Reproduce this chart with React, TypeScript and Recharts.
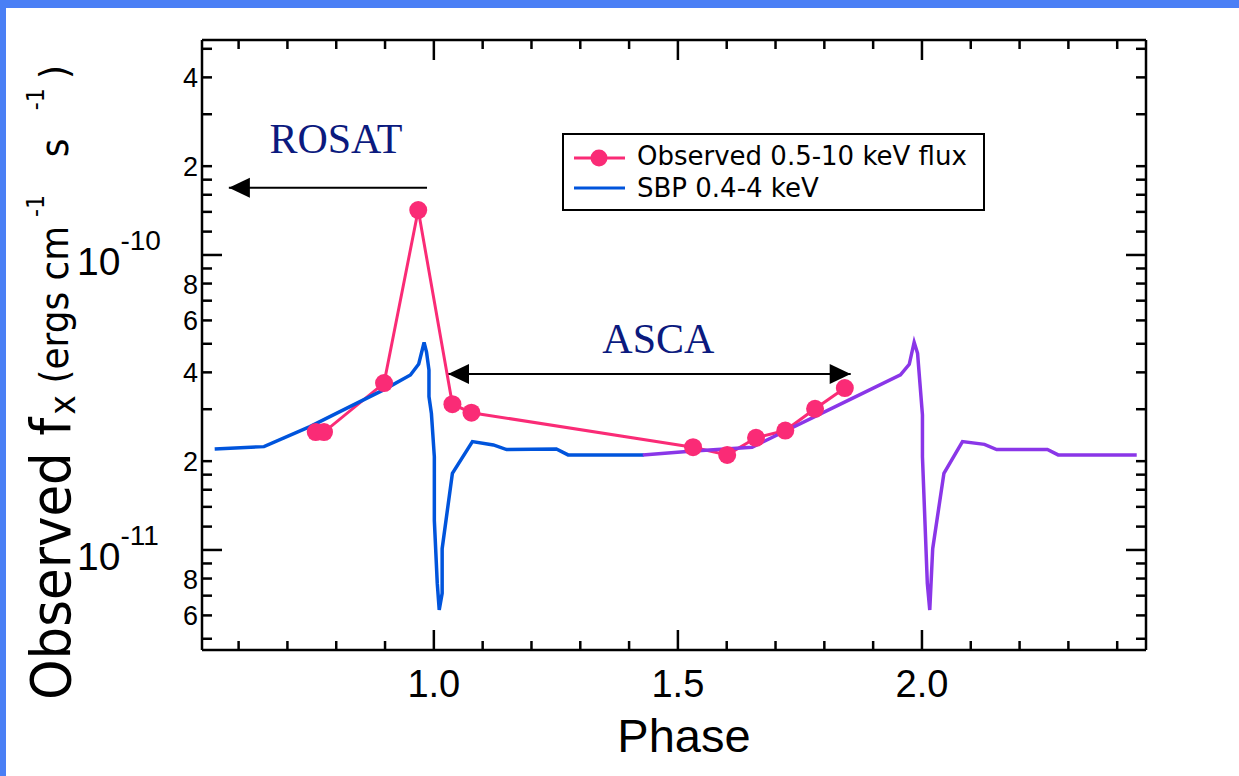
import React from 'react';
import { LineChart, Line, XAxis, YAxis, ReferenceLine } from 'recharts';

// observed 0.5-10 keV flux (ROSAT + ASCA points)
const observedPhase = [0.758, 0.775, 0.898, 0.968, 1.038, 1.077, 1.531, 1.601, 1.66, 1.72, 1.781, 1.842];
const observedFlux = [2.51e-11, 2.51e-11, 3.68e-11, 1.42e-10, 3.12e-11, 2.92e-11, 2.23e-11, 2.1e-11, 2.4e-11, 2.54e-11, 3.01e-11, 3.54e-11];

// SBP 0.4-4 keV model, first cycle (blue)
const sbpPhase = [0.551, 0.652, 0.746, 0.828, 0.9, 0.952, 0.969, 0.98, 0.985, 0.99, 0.99, 0.995, 1.001, 1.001, 1.007, 1.011, 1.017, 1.017, 1.038, 1.079, 1.122, 1.149, 1.251, 1.275, 1.43];
const sbpFlux = [2.2e-11, 2.24e-11, 2.62e-11, 3.06e-11, 3.51e-11, 3.92e-11, 4.27e-11, 5.05e-11, 4.69e-11, 4.07e-11, 3.31e-11, 2.9e-11, 2.07e-11, 1.26e-11, 7.7e-12, 6.26e-12, 7.13e-12, 1.01e-11, 1.82e-11, 2.33e-11, 2.27e-11, 2.19e-11, 2.2e-11, 2.1e-11, 2.1e-11];

// SBP 0.4-4 keV model, second cycle (purple)
const sbpNextPhase = [1.428, 1.525, 1.652, 1.853, 1.956, 1.974, 1.984, 1.991, 2.001, 2.001, 2.011, 2.016, 2.022, 2.045, 2.083, 2.128, 2.153, 2.257, 2.279, 2.44];
const sbpNextFlux = [2.1e-11, 2.16e-11, 2.23e-11, 3.24e-11, 3.92e-11, 4.26e-11, 5.06e-11, 4.64e-11, 2.87e-11, 2.07e-11, 7.7e-12, 6.26e-12, 1.01e-11, 1.82e-11, 2.33e-11, 2.28e-11, 2.19e-11, 2.19e-11, 2.1e-11, 2.1e-11];

const xTicks = [0.6, 0.7, 0.8, 0.9, 1.0, 1.1, 1.2, 1.3, 1.4, 1.5, 1.6, 1.7, 1.8, 1.9, 2.0, 2.1, 2.2, 2.3, 2.4];
const xTickLabels = ['', '', '', '', '1.0', '', '', '', '', '1.5', '', '', '', '', '2.0', '', '', '', ''];

const yTicks = [5e-12, 6e-12, 7e-12, 8e-12, 9e-12, 1e-11, 1.2e-11, 1.4e-11, 1.6e-11, 1.8e-11, 2e-11, 3e-11, 4e-11, 5e-11, 6e-11, 7e-11, 8e-11, 9e-11, 1e-10, 1.2e-10, 1.4e-10, 1.6e-10, 1.8e-10, 2e-10, 3e-10, 4e-10, 5e-10];
const yTickLabels = ['', '6', '', '8', '', '-11', '', '', '', '', '2', '', '4', '', '6', '', '8', '', '-10', '', '', '', '', '2', '', '4', ''];
const yDecades = [1e-11, 1e-10];

const PINK = '#FA2B76';
const BLUE = '#0054DC';
const PURPLE = '#8A36E8';
const NAVY = '#0B1A7E';

const PLOT_LEFT = 202;
const PLOT_RIGHT = 1146;
const PLOT_TOP = 40;
const PLOT_BOTTOM = 650;

const observed = observedPhase.map((p, i) => ({ phase: p, flux: observedFlux[i] }));
const sbp = sbpPhase.map((p, i) => ({ phase: p, flux: sbpFlux[i] }));
const sbpNext = sbpNextPhase.map((p, i) => ({ phase: p, flux: sbpNextFlux[i] }));

const font = '"Liberation Sans", Arial, sans-serif';
const titleFont = '"DejaVu Sans", sans-serif';

const XTick = (props: any) => {
  const { x, payload } = props;
  const i = xTicks.indexOf(payload.value);
  const label = xTickLabels[i];
  const len = label ? 20 : 9;
  return (
    <g>
      <line x1={x} x2={x} y1={PLOT_BOTTOM} y2={PLOT_BOTTOM - len} stroke="#000" strokeWidth={2.5} />
      <line x1={x} x2={x} y1={PLOT_TOP} y2={PLOT_TOP + len} stroke="#000" strokeWidth={2.5} />
      {label && (
        <text x={x} y={697} textAnchor="middle" fontSize={38} fontFamily={font} fill="#000">
          {label}
        </text>
      )}
    </g>
  );
};

const YTick = (props: any) => {
  const { y, payload } = props;
  const i = yTicks.indexOf(payload.value);
  const label = yTickLabels[i];
  const decade = yDecades.includes(payload.value);
  const len = decade ? 20 : 10;
  return (
    <g>
      <line x1={PLOT_LEFT} x2={PLOT_LEFT + len} y1={y} y2={y} stroke="#000" strokeWidth={2.5} />
      <line x1={PLOT_RIGHT - len} x2={PLOT_RIGHT} y1={y} y2={y} stroke="#000" strokeWidth={2.5} />
      {decade ? (
        <text x={77} y={y + 20} fontSize={39} fontFamily={font} fill="#000">
          10
          <tspan dy={-25} fontSize={28}>{label}</tspan>
        </text>
      ) : label ? (
        <text x={198} y={y + 10} textAnchor="end" fontSize={27} fontFamily={font} fill="#000">
          {label}
        </text>
      ) : null}
    </g>
  );
};

const arrowHead = (tipX: number, y: number, dir: number) => (
  <polygon points={`${tipX},${y} ${tipX + dir * 21},${y - 10} ${tipX + dir * 21},${y + 10}`} fill="#000" />
);

const makeArrow = (label: string, both: boolean, dx: number, dy: number) => (props: any) => {
  const { x1, y1, x2, y2 } = props;
  const left = Math.min(x1, x2);
  const right = Math.max(x1, x2);
  return (
    <g>
      <line x1={x1} y1={y1} x2={x2} y2={y2} stroke="#000" strokeWidth={2} />
      {arrowHead(left, y1, 1)}
      {both && arrowHead(right, y1, -1)}
      <text x={(left + right) / 2 + dx} y={y1 + dy} textAnchor="middle" fontSize={42}
        fontFamily='"Liberation Serif", "Times New Roman", serif' fill={NAVY}>
        {label}
      </text>
    </g>
  );
};

// rotated title; pieces placed along the rotated baseline
const YTitle = () => (
  <text transform="translate(70, 700) rotate(-90) scale(0.92, 1)" fontFamily={titleFont} fill="#000">
    <tspan x={0} y={0} fontSize={56}>Observed f</tspan>
    <tspan x={310} y={5} fontSize={36}>x</tspan>
    <tspan x={344} y={-2} fontSize={39}>(ergs cm</tspan>
    <tspan x={525} y={-26} fontSize={24}>-1</tspan>
    <tspan x={590} y={-2} fontSize={39}>s</tspan>
    <tspan x={641} y={-26} fontSize={24}>-1</tspan>
    <tspan x={675} y={-2} fontSize={39}>)</tspan>
  </text>
);

const PhaseLabel = () => (
  <text x={684} y={752} textAnchor="middle" fontSize={47} fontFamily={font} fill="#000">
    Phase
  </text>
);

const LegendBox = () => (
  <div
    style={{
      position: 'absolute', left: 562, top: 133, width: 419, height: 74,
      border: '2px solid #000', background: '#fff', fontFamily: '"DejaVu Sans", sans-serif',
    }}
  >
    <svg width={419} height={74} style={{ position: 'absolute', left: 0, top: 0 }}>
      <line x1={10} x2={61} y1={23} y2={23} stroke={PINK} strokeWidth={3} />
      <circle cx={35} cy={23} r={8.5} fill={PINK} />
      <text x={73} y={30} fontSize={26} fill="#000">Observed 0.5-10 keV flux</text>
      <line x1={10} x2={61} y1={53} y2={53} stroke={BLUE} strokeWidth={3} />
      <text x={73} y={62} fontSize={26} fill="#000">SBP 0.4-4 keV</text>
    </svg>
  </div>
);

export default function App() {
  return (
    <div style={{ position: 'relative', width: 1239, height: 776, background: '#4A7FF5', overflow: 'hidden' }}>
      <style>{'body{margin:0}'}</style>
      <div style={{ position: 'absolute', left: 6, top: 8, right: 0, bottom: 0, background: '#fff' }} />
      <div style={{ position: 'absolute', left: 0, top: 0 }}>
        <LineChart width={1239} height={776} margin={{ top: 40, right: 93, bottom: 66, left: 82 }}>
          <XAxis
            type="number"
            dataKey="phase"
            domain={[0.525, 2.459]}
            allowDataOverflow
            ticks={xTicks}
            interval={0}
            tick={XTick}
            tickLine={false}
            axisLine={{ stroke: '#000', strokeWidth: 2.5 }}
            height={60}
            label={{ content: () => <PhaseLabel /> }}
          />
          <YAxis
            type="number"
            scale="log"
            domain={[4.58e-12, 5.355e-10]}
            allowDataOverflow
            ticks={yTicks}
            interval={0}
            tick={YTick}
            tickLine={false}
            axisLine={{ stroke: '#000', strokeWidth: 2.5 }}
            width={120}
            label={{ content: () => <YTitle /> }}
          />
          <ReferenceLine y={5.355e-10} stroke="#000" strokeWidth={2.5} />
          <ReferenceLine x={2.459} stroke="#000" strokeWidth={2.5} />
          <ReferenceLine
            segment={[{ x: 0.986, y: 1.69e-10 }, { x: 0.58, y: 1.69e-10 }]}
            shape={makeArrow('ROSAT', false, 8, -35)}
          />
          <ReferenceLine
            segment={[{ x: 1.029, y: 3.95e-11 }, { x: 1.854, y: 3.95e-11 }]}
            shape={makeArrow('ASCA', true, 9, -21)}
          />
          <Line data={observed} dataKey="flux" stroke={PINK} strokeWidth={3}
            dot={{ r: 9, fill: PINK, stroke: 'none' }} isAnimationActive={false} />
          <Line data={sbp} dataKey="flux" stroke={BLUE} strokeWidth={3.5} dot={false} isAnimationActive={false} />
          <Line data={sbpNext} dataKey="flux" stroke={PURPLE} strokeWidth={3.5} dot={false} isAnimationActive={false} />
        </LineChart>
      </div>
      <LegendBox />
    </div>
  );
}
